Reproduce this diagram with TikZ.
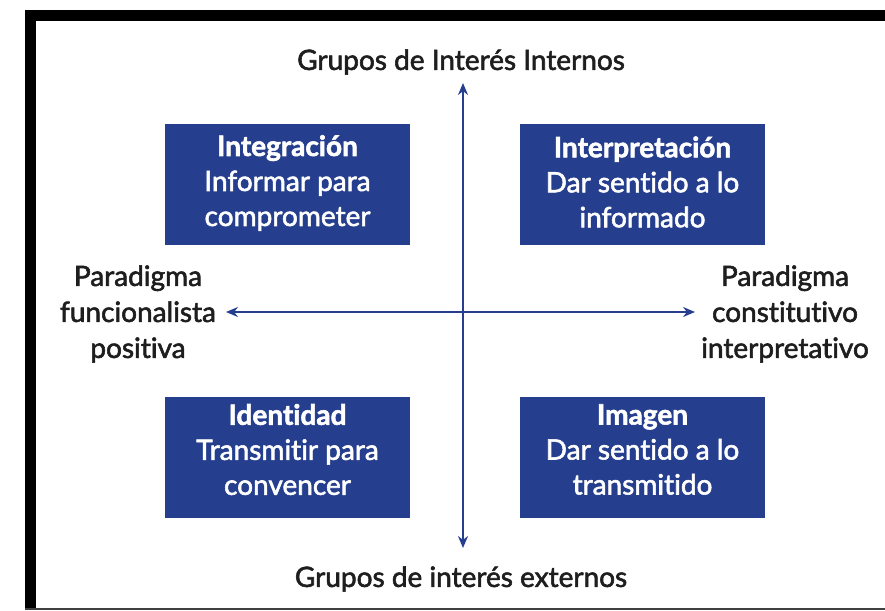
\documentclass[tikz,border=0pt]{standalone}
\usepackage{fontspec}
\setmainfont{Lato}[Ligatures=NoCommon]
\newfontfamily\medfont{Lato}[FakeBold=2,Ligatures=NoCommon]
\usetikzlibrary{arrows.meta}
\definecolor{boxblue}{HTML}{253F8E}
\definecolor{txtgray}{HTML}{1E1E1E}
\begin{document}
\begin{tikzpicture}[x=1pt,y=-1pt,
  quad/.style={fill=boxblue, minimum width=245pt, minimum height=121pt, inner sep=0pt},
  quadtxt/.style={text=white, align=center, inner sep=0pt, font=\medfont\fontsize{28}{35}\selectfont},
  lbl/.style={text=txtgray, align=center, font=\medfont\fontsize{28}{36}\selectfont, inner sep=0pt},
  axis/.style={draw=boxblue, line width=1.8pt, {Stealth[length=12pt,width=10pt]}-{Stealth[length=12pt,width=10pt]}}]
\useasboundingbox (0,0) rectangle (885,610);
% frame
\fill[black] (25,10) rectangle (885,21);
\fill[black] (25,10) rectangle (36,610);
\fill[black!75] (25,607.5) rectangle (885,610);
% axis end points
\coordinate (top) at (463,83);
\coordinate (bot) at (463,548);
\coordinate (lft) at (226,312);
\coordinate (rgt) at (695,312);
\draw[axis] (bot) -- (top);
\draw[axis] (lft) -- (rgt);
% boxes
\node[quad] (tl) at (287.5,184) {};
\node[quad] (tr) at (642.5,184) {};
\node[quad] (bl) at (287.5,457.5) {};
\node[quad] (br) at (642.5,457.5) {};
\node[quadtxt] (tlt) at ([yshift=1pt]tl.center) {{\bfseries Integración}\\Informar para\\comprometer};
\node[quadtxt] (trt) at ([yshift=2pt]tr.center) {{\bfseries Interpretación}\\Dar sentido a lo\\informado};
\node[quadtxt] (blt) at ([yshift=8pt]bl.center) {{\bfseries Identidad}\\Transmitir para\\convencer};
\node[quadtxt] (brt) at ([yshift=8pt]br.center) {{\bfseries Imagen}\\Dar sentido a lo\\transmitido};
% labels
\node[lbl] (lt) at (461,62) {Grupos de Interés Internos};
\node[lbl] (lb) at (461,579) {Grupos de interés externos};
\node[lbl] (ll) at (138,314) {Paradigma\\funcionalista\\positiva};
\node[lbl] (lr) at (785,314) {Paradigma\\constitutivo\\interpretativo};
\end{tikzpicture}
\end{document}
